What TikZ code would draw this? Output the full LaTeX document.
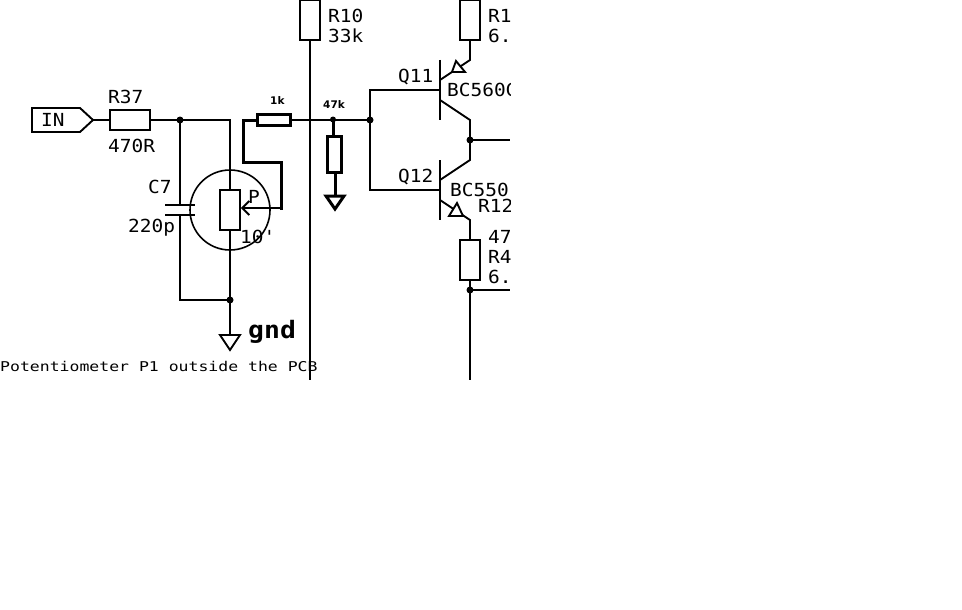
\documentclass[tikz,border=0pt]{standalone}
\usepackage{fontspec}
\setmonofont{DejaVu Sans Mono}
\setsansfont{DejaVu Sans}
\usetikzlibrary{arrows.meta}
\tikzset{
  wire/.style={line width=1.9pt,line join=miter},
  fat/.style={line width=3pt,line join=miter},
  res/.style={draw,line width=1.9pt,rectangle,inner sep=0pt,fill=white},
  dot/.style={circle,fill=black,inner sep=0pt,minimum size=7pt},
  lab/.style={anchor=base west,inner sep=0pt,font=\fontsize{18}{18}\selectfont\ttfamily,xscale=1.08},
  note/.style={anchor=base west,inner sep=0pt,font=\fontsize{13.5}{14}\selectfont\ttfamily,xscale=1.22},
  tiny/.style={anchor=base west,inner sep=0pt,font=\fontsize{10.5}{10.5}\selectfont\sffamily\bfseries},
}
\begin{document}
\begin{tikzpicture}[x=1pt,y=-1pt]
\useasboundingbox (0,0) rectangle (962,610);
\begin{scope}
\clip (0,0) rectangle (510,380);
% named nodes
\node[res,minimum width=40pt,minimum height=20pt] (r37) at (130,120) {};
\node[res,line width=3pt,minimum width=33pt,minimum height=11pt] (r1k) at (273.5,120) {};
\node[res,minimum width=20pt,minimum height=40pt] (pot) at (230,210) {};
\node[res,minimum width=20pt,minimum height=40pt] (r10) at (310,20) {};
\node[res,line width=3pt,minimum width=14pt,minimum height=36pt] (r47) at (334,154) {};
\node[res,minimum width=20pt,minimum height=40pt] (r11) at (470,20) {};
\node[res,minimum width=20pt,minimum height=40pt] (r4) at (470,260) {};
\node[dot] (j1) at (180,120) {};
\node[dot] (j2) at (230,300) {};
\node[dot,minimum size=6pt] (j3) at (333,119.5) {};
\node[dot] (j4) at (370,120) {};
\node[dot] (j5) at (470,140) {};
\node[dot] (j6) at (470,290) {};
\coordinate (intip) at (93,120);
\coordinate (corner) at (230,120);
\coordinate (c7a) at (180,205);
\coordinate (c7b) at (180,215);
\coordinate (wiper) at (280,208);
\coordinate (gndtop) at (230,335);
\coordinate (g47top) at (335,195);
\coordinate (railend) at (310,380);
\coordinate (b1) at (440,90);
\coordinate (b2) at (440,190);
\coordinate (e1) at (470,60);
\coordinate (e2) at (470,220);
\coordinate (c1) at (470,120);
\coordinate (c2) at (470,160);
\coordinate (outq) at (510,140);
\coordinate (outr) at (510,290);
\coordinate (downr) at (470,380);
% wires
\draw[wire] (intip) -- (r37.west);
\draw[wire] (r37.east) -- (j1.center) -- (corner) -- (pot.north);
\draw[wire] (j1.center) -- (c7a);
\draw[wire] (c7b) -- (180,300) -- (j2.center);
\draw[wire] (pot.south) -- (j2.center) -- (gndtop);
\draw[wire] (r1k.east) -- (j4.center);
\draw[fat] (r1k.west) -- (243,120) -- (243,162) -- (281,162) -- (281,208) -- (wiper);
\draw[wire,-{Straight Barb[length=7pt,width=14pt]}] (wiper) -- (pot.east |- wiper);
\draw[wire] (r10.south) -- (railend);
\draw[fat] (j3.center) -- (333,135);
\draw[fat] (335,172) -- (g47top);
\draw[wire] (b1) -- (370,90) -- (j4.center) -- (370,190) -- (b2);
\draw[wire] (r11.south) -- (470,60) -- (440,80);
\draw[wire] (440,100) -- (c1) -- (j5.center) -- (c2) -- (440,180);
\draw[wire] (j5.center) -- (outq);
\draw[wire] (440,200) -- (e2) -- (r4.north);
\draw[wire] (r4.south) -- (j6.center) -- (downr);
\draw[wire] (j6.center) -- (outr);
% transistor bars
\draw[wire] (440,60) -- (440,120);
\draw[wire] (440,160) -- (440,220);
% emitter triangles
\draw[wire,fill=white] (456,61) -- (452,72) -- (465,72) -- cycle;
\draw[wire,fill=white] (457,203) -- (449,216) -- (463,216) -- cycle;
% capacitor plates
\draw[wire] (165,205) -- (195,205);
\draw[wire] (165,215) -- (195,215);
% pot circle
\draw[line width=1.6pt] (230,210) circle[radius=40];
% grounds
\draw[wire] (220,335) -- (240,335) -- (230,350) -- cycle;
\draw[fat] (326,196) -- (344,196) -- (335,209) -- cycle;
% input tag
\draw[wire] (32,108) -- (80,108) -- (intip) -- (80,132) -- (32,132) -- cycle;
% labels
\node[lab] (tin) at (41,127) {IN};
\node[lab] (t37) at (108,103) {R37};
\node[lab] (t470) at (108,153) {470R};
\node[lab] (tc7) at (148,193) {C7};
\node[lab] (t220) at (128,232) {220p};
\node[lab] (tp) at (248,203) {P};
\node[lab] (t10) at (240,243) {10'};
\node[lab] (tr10) at (328,23) {R10};
\node[lab] (t33) at (328,43) {33k};
\node[lab] (tr1) at (488,23) {R1};
\node[lab] (t6a) at (488,43) {6.};
\node[lab] (tq11) at (398,83) {Q11};
\node[lab] (tbc1) at (447,97) {BC560C};
\node[lab] (tq12) at (398,182) {Q12};
\node[lab] (tbc2) at (450,196) {BC550};
\node[lab] (tr12) at (478,212) {R12};
\node[lab] (t47b) at (488,243) {47};
\node[lab] (tr4) at (488,263) {R4};
\node[lab] (t6b) at (488,283) {6.};
\node[tiny] (t1k) at (270,105) {1k};
\node[tiny] (t47k) at (323,108) {47k};
\node[anchor=base west,inner sep=0pt,font=\fontsize{24}{24}\selectfont\ttfamily\bfseries,xscale=1.1] (tg) at (248,338) {gnd};
\node[note] (tpot) at (0,371) {Potentiometer P1 outside the PCB};
\end{scope}
\end{tikzpicture}
\end{document}
